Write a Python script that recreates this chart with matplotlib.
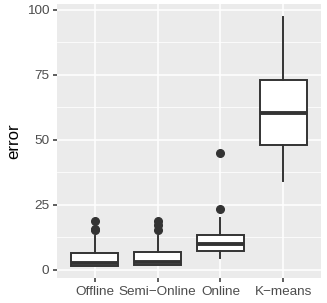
import matplotlib.pyplot as plt
from matplotlib.ticker import MultipleLocator

plt.rcParams['font.family'] = ['Liberation Sans', 'DejaVu Sans']

# box statistics
algorithms = ['Offline', 'Semi\u2212Online', 'Online', 'K\u2212means']
q1 = [1.7, 2.0, 7.4, 48.2]
med = [2.6, 3.1, 9.9, 60.5]
q3 = [6.4, 6.8, 13.5, 73.1]
wlo = [1.7, 2.0, 4.7, 34.2]
whi = [13.1, 13.1, 19.9, 97.4]
fliers = [[18.8, 15.6, 15.2], [19.0, 17.2, 15.4], [23.3, 45.0], []]

stats = []
for i, name in enumerate(algorithms):
    stats.append({'label': name, 'q1': q1[i], 'med': med[i], 'q3': q3[i],
                  'whislo': wlo[i], 'whishi': whi[i], 'fliers': fliers[i]})

fig = plt.figure(figsize=(3.27, 3.03), dpi=100)
ax = fig.add_axes([0.1743, 0.0825, 0.8074, 0.9043])
ax.set_facecolor('#EBEBEB')

line_c = '#333333'
ax.bxp(stats, positions=[1, 2, 3, 4], widths=0.75, patch_artist=True,
       showcaps=False,
       boxprops={'facecolor': 'white', 'edgecolor': line_c, 'linewidth': 1.4},
       whiskerprops={'color': line_c, 'linewidth': 1.4},
       medianprops={'color': line_c, 'linewidth': 2.8},
       flierprops={'marker': 'o', 'markerfacecolor': line_c, 'markeredgecolor': line_c,
                   'markersize': 5.5})

ax.set_xlim(0.4, 4.6)
ax.set_ylim(-3.1, 102.3)
ax.yaxis.set_major_locator(MultipleLocator(25))
ax.yaxis.set_minor_locator(MultipleLocator(12.5))
ax.set_xticks([1, 2, 3, 4])
ax.set_xticklabels(algorithms)

ax.grid(which='major', color='white', linewidth=1.1)
ax.grid(which='minor', axis='y', color='white', linewidth=0.55)
ax.set_axisbelow(True)
for s in ax.spines.values():
    s.set_visible(False)

ax.tick_params(which='major', length=3, width=1.1, color='#333333',
               labelcolor='#4D4D4D', labelsize=9.7, pad=2.5)
ax.tick_params(which='minor', length=0)

ax.set_ylabel('error', fontsize=12.1, labelpad=4)
# the reference crops the x label at the bottom edge
ax.set_xlabel('algorithm', fontsize=12.1, labelpad=5)

fig.savefig('out.png', dpi=100)
